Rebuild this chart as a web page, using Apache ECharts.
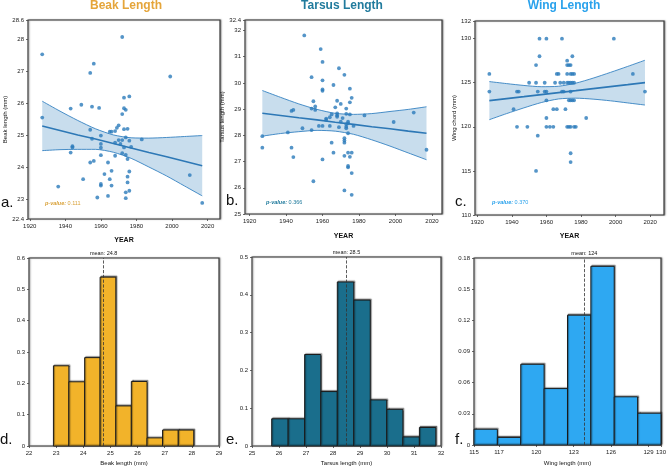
<!DOCTYPE html>
<html>
<head>
<meta charset="utf-8">
<script src="https://cdn.jsdelivr.net/npm/echarts@6/dist/echarts.min.js"></script>
<style>
  html, body { margin: 0; padding: 0; background: #fff; }
  #main { width: 669px; height: 467px; }
</style>
</head>
<body>
<div id="main"></div>
<script>
// ---- scatter data: [year, value] ----
var beakPoints = [
  [1927,27.53],[1927,25.56],[1936,23.41],[1943,25.84],[1943,24.47],[1944,24.67],[1944,24.63],
  [1950,23.64],[1949,25.96],[1954,26.95],[1956,27.24],[1954,25.18],[1955,25.90],[1955,24.90],
  [1954,24.16],[1956,24.21],[1959,25.86],[1958,23.07],[1960,25.00],[1960,24.74],[1960,24.62],
  [1960,24.39],[1960,23.49],[1960,23.44],[1962,23.80],[1964,24.16],[1964,23.12],[1965,23.64],
  [1965,25.12],[1966,23.90],[1966,23.44],[1966,25.12],[1968,25.14],[1968,24.37],[1968,24.78],
  [1969,25.24],[1970,25.32],[1970,24.86],[1971,24.74],[1972,25.67],[1972,28.07],[1972,24.86],
  [1972,24.45],[1973,26.18],[1973,25.85],[1973,25.20],[1974,25.80],[1973,24.63],[1974,24.40],
  [1974,23.23],[1974,23.05],[1974,24.94],[1975,25.21],[1975,24.27],[1975,23.72],[1975,23.54],
  [1976,26.22],[1976,24.84],[1976,23.88],[1976,23.28],[1977,24.65],[1983,24.88],[1999,26.84],
  [2010,23.77],[2017,22.90]
];
var tarsusPoints = [
  [1927,27.97],[1927,27.53],[1941,28.11],[1943,28.93],[1944,28.97],[1943,27.53],[1944,27.17],
  [1949,28.27],[1950,31.81],[1954,30.22],[1954,29.02],[1954,28.20],[1955,29.30],[1956,29.10],
  [1956,28.97],[1955,26.25],[1958,28.36],[1959,31.29],[1960,30.80],[1960,30.10],[1960,29.75],
  [1960,29.70],[1960,28.36],[1960,27.08],[1962,28.64],[1962,28.59],[1964,28.36],[1964,28.69],
  [1965,28.80],[1965,27.72],[1966,27.34],[1966,29.92],[1967,29.07],[1968,29.32],[1968,28.84],
  [1968,28.76],[1968,28.71],[1969,30.56],[1969,28.31],[1970,29.20],[1970,28.52],[1971,28.66],
  [1972,30.31],[1972,27.89],[1972,27.80],[1972,27.72],[1972,27.22],[1972,25.90],[1973,29.02],
  [1973,28.82],[1973,28.43],[1973,28.33],[1973,28.27],[1974,28.52],[1974,28.46],[1974,28.08],
  [1974,27.34],[1974,26.83],[1974,26.78],[1975,29.78],[1975,29.26],[1975,28.80],[1975,27.18],
  [1976,29.43],[1976,27.34],[1976,26.56],[1976,25.73],[1977,28.36],[1983,28.76],[1999,28.51],
  [2010,28.87],[2017,27.45]
];
var wingPoints = [
  [1927,126],[1927,124],[1941,122],[1943,124],[1944,124],[1943,120],[1949,120],[1950,125],
  [1954,127],[1954,125],[1954,115],[1955,119],[1955,124],[1956,130],[1956,128],[1959,125],
  [1959,124],[1960,130],[1960,124],[1960,123],[1960,121],[1960,120],[1962,120],[1964,120],
  [1964,122],[1965,125],[1966,126],[1967,126],[1966,122],[1968,125],[1969,130],[1969,124],
  [1970,124],[1970,125],[1971,122],[1972,125],[1972,127.5],[1972,127],[1973,127],[1974,127],
  [1972,126],[1974,126],[1975,126],[1976,126],[1972,120],[1973,120],[1974,120],[1973,123],
  [1974,123],[1975,123],[1974,117],[1974,116],[1975,128],[1975,125],[1976,125],[1974,124],
  [1976,123],[1976,120],[1977,120],[1973,125],[1974,125],[1983,121],[1999,130],[2010,126],
  [2017,124]
];

// ---- regression line + 95% band, read at these years ----
var bandYears   = [1927, 1937, 1947, 1957, 1967, 1977, 1987, 1997, 2007, 2017];
var beakFit     = [25.30, 25.16, 25.02, 24.89, 24.75, 24.61, 24.47, 24.34, 24.20, 24.06];
var beakUpper   = [26.07, 25.76, 25.47, 25.21, 25.02, 24.93, 24.92, 24.94, 24.97, 25.00];
var beakLower   = [24.53, 24.56, 24.57, 24.57, 24.48, 24.29, 24.02, 23.74, 23.43, 23.12];
var tarsusFit   = [28.84, 28.76, 28.67, 28.59, 28.50, 28.42, 28.33, 28.25, 28.16, 28.08];
var tarsusUpper = [29.71, 29.45, 29.20, 28.99, 28.84, 28.80, 28.83, 28.91, 28.99, 29.09];
var tarsusLower = [27.97, 28.07, 28.14, 28.19, 28.16, 28.04, 27.83, 27.59, 27.33, 27.07];
var wingFit     = [122.97, 123.20, 123.42, 123.65, 123.88, 124.10, 124.33, 124.56, 124.78, 125.01];
var wingUpper   = [125.13, 124.90, 124.69, 124.55, 124.60, 124.95, 125.52, 126.17, 126.85, 127.55];
var wingLower   = [120.81, 121.50, 122.15, 122.75, 123.16, 123.25, 123.14, 122.95, 122.71, 122.47];

// ---- histograms (density) ----
var beakEdges     = [22.90, 23.47, 24.05, 24.62, 25.20, 25.77, 26.35, 26.92, 27.50, 28.07];
var beakDensity   = [0.256, 0.205, 0.282, 0.539, 0.128, 0.206, 0.026, 0.051, 0.051];
var tarsusEdges   = [25.73, 26.34, 26.95, 27.55, 28.16, 28.77, 29.38, 29.99, 30.59, 31.20, 31.81];
var tarsusDensity = [0.072, 0.072, 0.242, 0.144, 0.434, 0.386, 0.122, 0.097, 0.024, 0.049];
var wingEdges     = [115, 116.875, 118.75, 120.625, 122.5, 124.375, 126.25, 128.125, 130];
var wingDensity   = [0.0152, 0.0073, 0.0777, 0.0543, 0.125, 0.172, 0.0464, 0.0306];
var means = [24.75, 28.5, 123.85];
var meanLabels = ['mean: 24.8', 'mean: 28.5', 'mean: 124'];

// ---- tick labels ----
var yearTicks   = [1920, 1940, 1960, 1980, 2000, 2020];
var beakYTicks  = [22.4, 23, 24, 25, 26, 27, 28, 28.6];
var tarsusYTicks= [25, 26, 27, 28, 29, 30, 31, 32, 32.4];
var wingYTicks  = [110, 115, 120, 125, 130, 132];
var beakHistX   = [22, 23, 24, 25, 26, 27, 28, 29];
var tarsusHistX = [25, 26, 27, 28, 29, 30, 31, 32];
var wingHistX   = [115, 117, 120, 123, 126, 129, 130];
var beakHistY   = [0, 0.1, 0.2, 0.3, 0.4, 0.5, 0.6];
var tarsusHistY = [0, 0.1, 0.2, 0.3, 0.4, 0.5];
var wingHistY   = [0, 0.03, 0.06, 0.09, 0.12, 0.15, 0.18];

var GOLD = '#F2B32A', TEAL = '#1A6E8C', SKY = '#2EA8F2';
var DOT = '#2B7BBA';
var FONT = 'Liberation Sans';

// plot boxes (left, top, width, height)
var boxes = [
  [28, 20, 192, 199], [245, 20, 197, 194], [475, 21, 189, 194],
  [29, 258, 190, 189], [252, 257, 189, 190], [474, 258, 190, 190]
];

var myChart = echarts.init(document.getElementById('main'));

function pairs(xs, ys) {
  var out = [];
  for (var i = 0; i < xs.length; i++) out.push([xs[i], ys[i]]);
  return out;
}
function bins(edges, dens) {
  var out = [];
  for (var i = 0; i < dens.length; i++) out.push([edges[i], edges[i + 1], dens[i]]);
  return out;
}

function grid(b) {
  return {left: b[0], top: b[1], width: b[2], height: b[3], show: true, backgroundColor: '#fff',
    borderColor: '#3a3a3a', borderWidth: 1.2,
    shadowColor: 'rgba(0,0,0,0.35)', shadowBlur: 1.5, shadowOffsetX: 1};
}
function axis(gi, min, max, ticks, name, gap, nameSize, nameBold) {
  return {
    type: 'value', gridIndex: gi, min: min, max: max,
    name: name, nameLocation: 'middle', nameGap: gap,
    nameTextStyle: {fontSize: nameSize, color: '#111', fontFamily: FONT, fontWeight: nameBold ? 'bold' : 'normal'},
    axisLine: {show: false}, splitLine: {show: false},
    axisTick: {show: true, length: 2, lineStyle: {color: '#444', width: 0.8}, customValues: ticks},
    axisLabel: {fontSize: 6, color: '#222', fontFamily: FONT, margin: 4, customValues: ticks,
      formatter: function (v) { return String(v); }}
  };
}

// confidence band fill: one polygon, upper edge left->right then lower edge back
function bandFill(gi, lo, hi) {
  var rows = [];
  for (var i = 0; i < bandYears.length; i++) rows.push([bandYears[i], lo[i], hi[i]]);
  return {
    type: 'custom', xAxisIndex: gi, yAxisIndex: gi, data: rows, encode: {x: 0, y: [1, 2]}, z: 1,
    renderItem: function (params, api) {
      if (params.dataIndex !== 0) return null;
      var pts = [], i;
      for (i = 0; i < rows.length; i++) pts.push(api.coord([rows[i][0], rows[i][2]]));
      for (i = rows.length - 1; i >= 0; i--) pts.push(api.coord([rows[i][0], rows[i][1]]));
      return {type: 'polygon', shape: {points: pts}, style: {fill: 'rgba(44,123,186,0.26)'}};
    }
  };
}

// scatter panel: band, band edges, fit line, points
function scatterSeries(gi, pts, fit, lo, hi) {
  var edge = {color: '#3682C2', width: 0.9};
  return [
    bandFill(gi, lo, hi),
    {type: 'line', xAxisIndex: gi, yAxisIndex: gi, smooth: 0.25, symbol: 'none', lineStyle: edge,
      data: pairs(bandYears, hi), z: 2},
    {type: 'line', xAxisIndex: gi, yAxisIndex: gi, smooth: 0.25, symbol: 'none', lineStyle: edge,
      data: pairs(bandYears, lo), z: 2},
    {type: 'line', xAxisIndex: gi, yAxisIndex: gi, symbol: 'none',
      lineStyle: {color: '#2D78B6', width: 1.6}, data: pairs(bandYears, fit), z: 3},
    {type: 'scatter', xAxisIndex: gi, yAxisIndex: gi, symbolSize: 3.8,
      itemStyle: {color: DOT}, data: pts, z: 4}
  ];
}

// histogram panel: custom rects + dashed mean line
function histSeries(gi, data, color, mean, label) {
  return {
    type: 'custom', xAxisIndex: gi, yAxisIndex: gi, data: data,
    encode: {x: [0, 1], y: 2},
    renderItem: function (params, api) {
      var p0 = api.coord([api.value(0), api.value(2)]);
      var p1 = api.coord([api.value(1), 0]);
      return {
        type: 'rect',
        shape: {x: p0[0], y: p0[1], width: p1[0] - p0[0], height: p1[1] - p0[1]},
        style: {fill: color, stroke: '#1a1a1a', lineWidth: 1,
          shadowColor: 'rgba(0,0,0,0.4)', shadowBlur: 1, shadowOffsetX: 1, shadowOffsetY: -1}
      };
    },
    markLine: {
      silent: true, symbol: 'none', animation: false,
      lineStyle: {color: '#333', type: 'dashed', width: 0.8},
      label: {show: true, position: 'end', formatter: label, fontSize: 5.5, color: '#111', fontFamily: FONT, distance: 2},
      data: [{xAxis: mean}]
    }
  };
}

function letter(txt, x, y) {
  return {type: 'text', x: x, y: y, style: {text: txt, fontSize: 15, fontFamily: FONT, fill: '#111', textVerticalAlign: 'bottom', verticalAlign: 'bottom'}};
}
function header(txt, x, color) {
  return {type: 'text', x: x, y: 0, style: {text: txt, fontSize: 12, fontWeight: 'bold', fontFamily: FONT, fill: color,
    textAlign: 'center', align: 'center', textVerticalAlign: 'top', verticalAlign: 'top'}};
}
function pval(num, x, y, color) {
  return {type: 'text', x: x, y: y, style: {text: '{i|p-value:} ' + num, fontSize: 5.5, fontFamily: FONT, fill: color,
    textVerticalAlign: 'middle', verticalAlign: 'middle',
    rich: {i: {fontStyle: 'italic', fontWeight: 'bold', fontSize: 5.5, fontFamily: FONT, fill: color, color: color}}}};
}

var option = {
  animation: false,
  textStyle: {fontFamily: FONT},
  grid: boxes.map(grid),
  xAxis: [
    axis(0, 1919, 2027, yearTicks, 'YEAR', 18, 7, true),
    axis(1, 1917.5, 2025.5, yearTicks, 'YEAR', 19, 7, true),
    axis(2, 1918.7, 2028, yearTicks, 'YEAR', 18, 7, true),
    axis(3, 22, 29, beakHistX, 'Beak length (mm)', 14, 6, false),
    axis(4, 25, 32, tarsusHistX, 'Tarsus length (mm)', 14, 6, false),
    axis(5, 115, 130, wingHistX, 'Wing length (mm)', 15, 6, false)
  ],
  yAxis: [
    axis(0, 22.4, 28.6, beakYTicks, 'Beak length (mm)', 17, 6, false),
    axis(1, 25, 32.4, tarsusYTicks, 'Tarsus length (mm)', 14, 6, false),
    axis(2, 110, 132, wingYTicks, 'Wing chord (mm)', 16, 6, false),
    axis(3, 0, 0.6, beakHistY, '', 10, 6, false),
    axis(4, 0, 0.5, tarsusHistY, '', 10, 6, false),
    axis(5, 0, 0.18, wingHistY, '', 10, 6, false)
  ],
  graphic: [
    header('Beak Length', 126, '#E5A53A'),
    header('Tarsus Length', 342, '#217B9D'),
    header('Wing Length', 564, '#2AA2EC'),
    letter('a.', 1, 210),
    letter('b.', 226, 208),
    letter('c.', 455, 209),
    letter('d.', 0, 447),
    letter('e.', 226, 447),
    letter('f.', 455, 447),
    pval('0.111', 45, 203, '#D9A23A'),
    pval('0.366', 266, 202, '#217B9D'),
    pval('0.370', 492, 202, '#2AA2EC')
  ],
  series: [].concat(
    scatterSeries(0, beakPoints, beakFit, beakLower, beakUpper),
    scatterSeries(1, tarsusPoints, tarsusFit, tarsusLower, tarsusUpper),
    scatterSeries(2, wingPoints, wingFit, wingLower, wingUpper),
    [
      histSeries(3, bins(beakEdges, beakDensity), GOLD, means[0], meanLabels[0]),
      histSeries(4, bins(tarsusEdges, tarsusDensity), TEAL, means[1], meanLabels[1]),
      histSeries(5, bins(wingEdges, wingDensity), SKY, means[2], meanLabels[2])
    ]
  )
};
myChart.setOption(option);
</script>
</body>
</html>
